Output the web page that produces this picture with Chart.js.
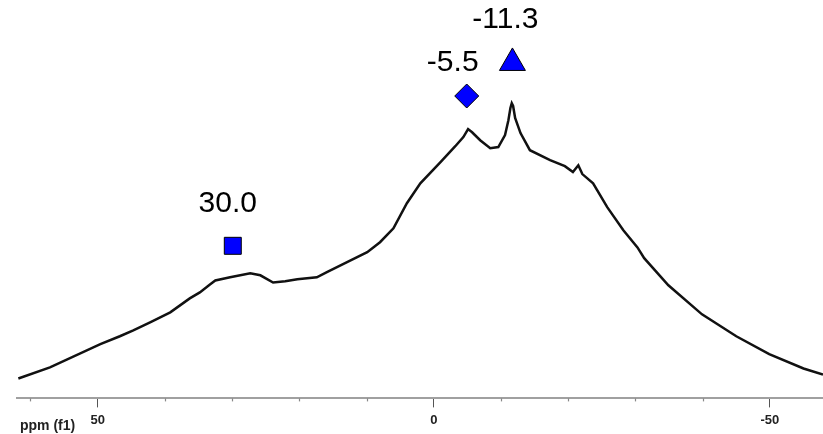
<!DOCTYPE html>
<html>
<head>
<meta charset="utf-8">
<script src="https://cdn.jsdelivr.net/npm/chart.js@4.4.1/dist/chart.umd.min.js"></script>
<style>
  html, body { margin: 0; padding: 0; background: #fff; }
  #grafico { display: block; }
</style>
</head>
<body>
<canvas id="grafico" width="823" height="434"></canvas>
<script>
// espectro (ppm, intensidad en unidades arbitrarias 0-100)
const espectroPpm = [61.8, 57.1, 49.6, 46.7, 44.7, 42.2, 39.2, 36.3, 34.8, 33.3, 32.5, 30.3, 27.3, 25.8,
  23.9, 22.1, 20.3, 17.4, 15.9, 12.9, 9.9, 8.0, 6.0, 4.0, 2.0, -1.0, -3.2, -4.4, -5.1, -5.7, -6.9,
  -8.4, -9.6, -10.6, -11.1, -11.4, -11.6, -11.8, -12.1, -12.9, -14.3, -17.3, -19.5, -20.7, -21.5,
  -22.1, -23.7, -25.8, -28.2, -30.3, -31.3, -34.9, -39.9, -45.0, -49.9, -55.0, -57.9];
const espectroInt = [5.0, 7.8, 13.6, 15.6, 17.1, 19.1, 21.6, 25.1, 26.6, 28.6, 29.6, 30.4, 31.4, 30.9,
  29.1, 29.4, 29.9, 30.4, 31.7, 34.2, 36.7, 39.2, 42.7, 49.0, 54.0, 59.3, 63.3, 65.6, 67.6, 66.8, 64.8,
  62.8, 63.1, 66.1, 69.8, 72.9, 74.1, 73.4, 70.4, 66.6, 62.3, 59.8, 58.3, 56.8, 58.5,
  56.3, 54.0, 48.0, 42.2, 37.9, 35.2, 28.4, 21.1, 15.6, 11.1, 7.5, 6.0];

// marcadores de los picos
const picosPpm = [29.9, -4.9, -11.7];
const picosInt = [38.3, 75.9, 84.2];
const picosEtiqueta = ['30.0', '-5.5', '-11.3'];
const picosForma = ['rect', 'rectRot', 'triangle'];

const ticksMayores = [50, 0, -50];
const ticksMenores = [60, 40, 30, 20, 10, -10, -20, -30, -40];
const tituloEje = 'ppm (f1)';

// desplazamiento de cada etiqueta respecto a su marcador (px)
const offsetEtiqueta = [[-5, -42], [-14, -33], [-7, -43]];

const ejePlugin = {
  id: 'ejeExtra',
  afterDraw(chart) {
    const x = chart.scales.x;
    const ctx = chart.ctx;
    ctx.save();
    // ticks menores
    ctx.strokeStyle = '#888';
    ctx.lineWidth = 1.2;
    ticksMenores.forEach(v => {
      const px = Math.round(x.getPixelForValue(v)) + 0.5;
      ctx.beginPath();
      ctx.moveTo(px, x.top);
      ctx.lineTo(px, x.top + 3);
      ctx.stroke();
    });
    // título del eje (el title de Chart.js queda fuera con reverse)
    ctx.font = 'bold 14px "Liberation Sans", Arial, sans-serif';
    ctx.fillStyle = '#222';
    ctx.textAlign = 'left';
    ctx.textBaseline = 'middle';
    ctx.fillText(tituloEje, x.left + 3, x.top + 28);
    ctx.restore();
  }
};

const etiquetasPlugin = {
  id: 'etiquetasPicos',
  afterDatasetsDraw(chart) {
    const meta = chart.getDatasetMeta(1);
    const ctx = chart.ctx;
    ctx.save();
    ctx.font = '30px "Liberation Sans", Arial, sans-serif';
    ctx.fillStyle = '#000';
    ctx.textAlign = 'center';
    ctx.textBaseline = 'middle';
    meta.data.forEach((el, i) => {
      ctx.fillText(picosEtiqueta[i], el.x + offsetEtiqueta[i][0], el.y + offsetEtiqueta[i][1]);
    });
    ctx.restore();
  }
};

const ctx = document.getElementById('grafico');

window.grafica = new Chart(ctx, {
  type: 'line',
  data: {
    datasets: [{
      data: espectroPpm.map((p, i) => ({ x: p, y: espectroInt[i] })),
      borderColor: '#111',
      borderWidth: 2.5,
      pointRadius: 0,
      tension: 0,
      order: 2
    }, {
      type: 'scatter',
      data: picosPpm.map((p, i) => ({ x: p, y: picosInt[i] })),
      pointStyle: picosForma,
      pointRadius: [12, 12, 15],
      backgroundColor: '#0000ff',
      borderColor: '#000',
      borderWidth: 1,
      order: 1
    }]
  },
  options: {
    responsive: false,
    animation: false,
    devicePixelRatio: 1,
    layout: { autoPadding: false, padding: { left: 17, right: 0, top: 0, bottom: 1 } },
    plugins: {
      legend: { display: false },
      tooltip: { enabled: false }
    },
    scales: {
      x: {
        type: 'linear',
        reverse: true,
        min: -57.9,
        max: 62.0,
        afterBuildTicks: s => { s.ticks = ticksMayores.map(v => ({ value: v })); },
        afterFit: s => { s.paddingLeft = 0; s.paddingRight = 0; },
        border: { color: '#a0a0a0', width: 2 },
        grid: { drawOnChartArea: false, tickLength: 9, tickColor: '#555', tickWidth: 1 },
        ticks: {
          padding: 5,
          color: '#222',
          maxRotation: 0,
          font: { family: '"Liberation Sans", Arial, sans-serif', size: 13, weight: 'bold' }
        }
      },
      y: {
        display: false,
        min: 0,
        max: 100
      }
    }
  },
  plugins: [ejePlugin, etiquetasPlugin]
});
</script>
</body>
</html>
